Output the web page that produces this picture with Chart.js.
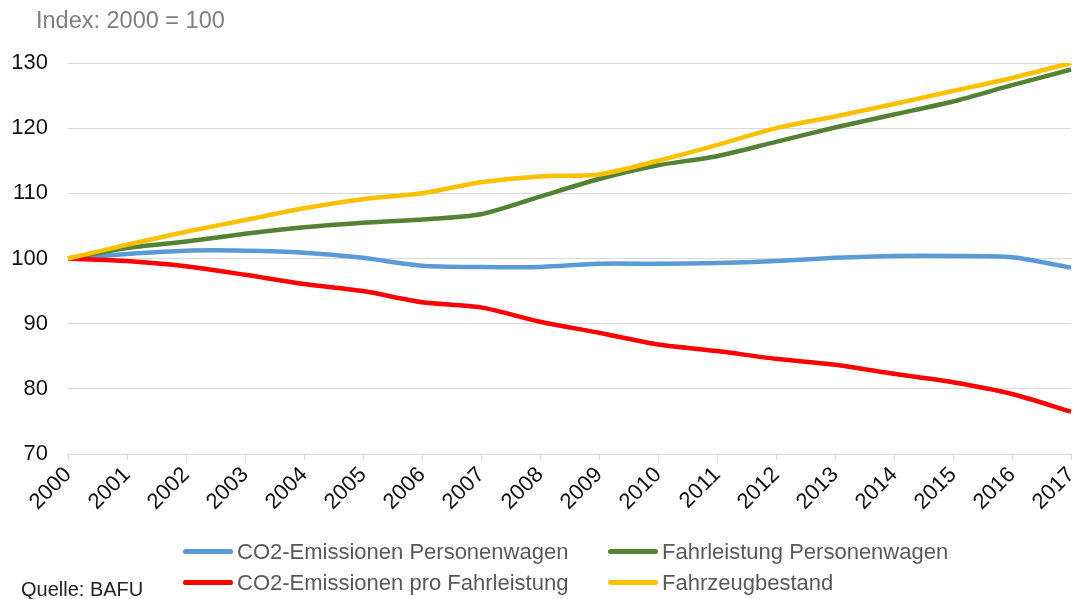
<!DOCTYPE html>
<html>
<head>
<meta charset="utf-8">
<script src="https://cdn.jsdelivr.net/npm/chart.js@4.4.1/dist/chart.umd.min.js"></script>
<style>
  body { margin: 0; background: #fff; font-family: "Liberation Sans", Arial, sans-serif; }
  #wrap { position: relative; width: 1073px; height: 599px; overflow: hidden; }
  #note { position: absolute; left: 36px; top: 7px; font-size: 23.5px; color: #808080; }
  #source { position: absolute; left: 21px; top: 578px; font-size: 20px; color: #222; }
  .leg { position: absolute; font-size: 22px; color: #595959; white-space: nowrap; line-height: 24px; }
  .leg span { display: inline-block; width: 50px; height: 5px; border-radius: 3px; vertical-align: middle; margin-right: 4px; position: relative; top: -2px; }
</style>
</head>
<body>
<div id="wrap">
  <canvas id="chart" width="1073" height="599"></canvas>
  <div id="note">Index: 2000 = 100</div>
  <div id="source">Quelle: BAFU</div>
</div>
<script>
var years = ["2000","2001","2002","2003","2004","2005","2006","2007","2008","2009","2010","2011","2012","2013","2014","2015","2016","2017"];

var co2Personenwagen = [100, 100.7, 101.2, 101.2, 100.9, 100.1, 98.9, 98.7, 98.7, 99.2, 99.2, 99.3, 99.6, 100.1, 100.4, 100.4, 100.2, 98.6];
var fahrleistung = [100, 101.6, 102.6, 103.8, 104.8, 105.5, 106.0, 106.8, 109.5, 112.2, 114.3, 115.7, 117.9, 120.1, 122.1, 124.1, 126.6, 129.0];
var co2ProFahrleistung = [100, 99.6, 98.8, 97.5, 96.1, 95.0, 93.3, 92.5, 90.3, 88.6, 86.8, 85.8, 84.6, 83.7, 82.3, 81.0, 79.2, 76.5];
var fahrzeugbestand = [100, 102.1, 104.1, 105.9, 107.7, 109.1, 110.0, 111.7, 112.6, 112.9, 115.0, 117.4, 120.0, 121.8, 123.7, 125.7, 127.7, 130.0];

var seriesNames = ["CO2-Emissionen Personenwagen", "Fahrleistung Personenwagen", "CO2-Emissionen pro Fahrleistung", "Fahrzeugbestand"];
var seriesColors = ["#5B9BD5", "#548235", "#FF0000", "#FFC000"];
var seriesData = [co2Personenwagen, fahrleistung, co2ProFahrleistung, fahrzeugbestand];

var yTicks = [70, 80, 90, 100, 110, 120, 130];

// legend like the excel one: 2 x 2
var legendPos = [[183, 540], [608, 540], [183, 571], [608, 571]];
var wrap = document.getElementById('wrap');
seriesNames.forEach(function (name, i) {
  var d = document.createElement('div');
  d.className = 'leg';
  d.style.left = legendPos[i][0] + 'px';
  d.style.top = legendPos[i][1] + 'px';
  d.innerHTML = '<span style="background:' + seriesColors[i] + '"></span>' + name;
  wrap.appendChild(d);
});

var datasets = seriesData.map(function (vals, i) {
  return {
    label: seriesNames[i],
    data: vals,
    borderColor: seriesColors[i],
    backgroundColor: seriesColors[i],
    borderWidth: 4.5,
    pointRadius: 0,
    tension: 0.25,
    order: seriesData.length - i
  };
});

new Chart(document.getElementById('chart'), {
  type: 'line',
  data: { labels: years, datasets: datasets },
  options: {
    responsive: false,
    animation: false,
    layout: { padding: { top: 63, right: 2, bottom: 85, left: 0 } },
    plugins: { legend: { display: false }, title: { display: false }, tooltip: { enabled: false } },
    scales: {
      x: {
        offset: false,
        grid: { display: true, drawOnChartArea: false, drawTicks: true, tickLength: 6, color: '#d9d9d9' },
        border: { display: true, color: '#d9d9d9' },
        ticks: { color: '#111', font: { family: 'Liberation Sans', size: 22 }, maxRotation: 45, minRotation: 45, padding: 2, autoSkip: false },
        afterFit: function (s) { s.height = 60; s.paddingLeft = 0; s.paddingRight = 0; }
      },
      y: {
        min: 70, max: 130,
        afterBuildTicks: function (s) { s.ticks = yTicks.map(function (v) { return { value: v }; }); },
        grid: { color: '#d9d9d9', drawTicks: false },
        border: { display: false },
        ticks: { color: '#111', font: { family: 'Liberation Sans', size: 22 }, padding: 20 },
        afterFit: function (s) { s.width = 68; s.paddingTop = 0; s.paddingBottom = 0; }
      }
    }
  }
});
</script>
</body>
</html>
